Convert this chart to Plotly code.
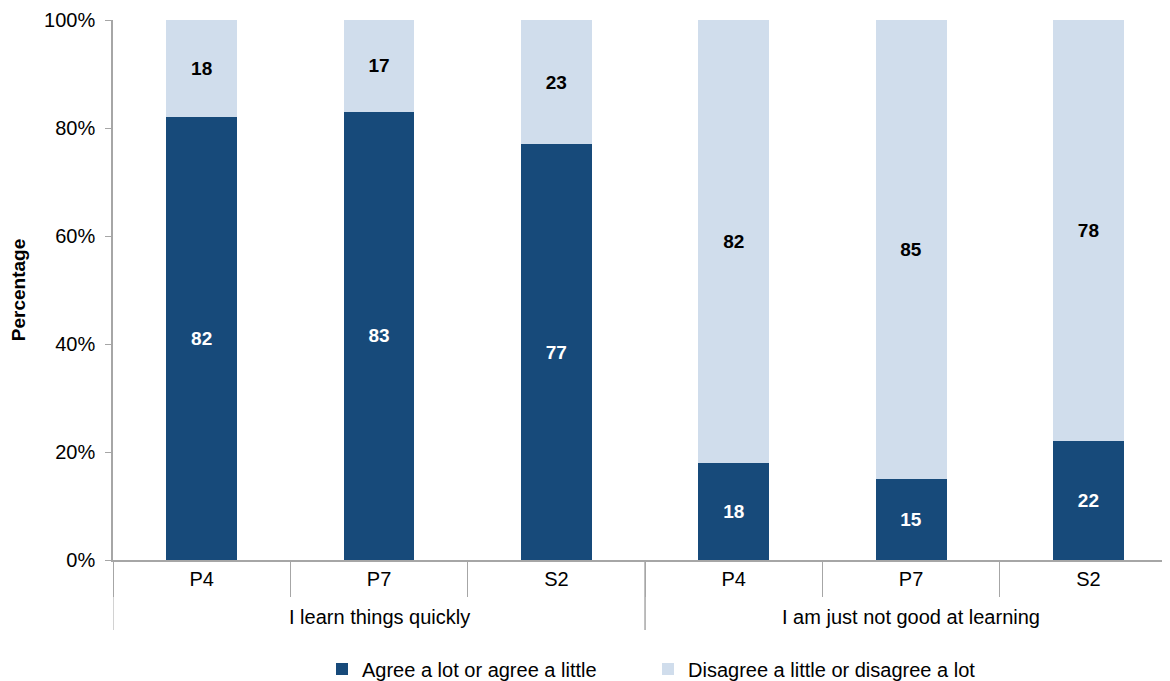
import plotly.graph_objects as go

statements = ["I learn things quickly"] * 3 + ["I am just not good at learning"] * 3
stages = ["P4", "P7", "S2", "P4", "P7", "S2"]
agree = [82, 83, 77, 18, 15, 22]
disagree = [18, 17, 23, 82, 85, 78]
y_ticks = [0, 20, 40, 60, 80, 100]
y_tick_labels = ["0%", "20%", "40%", "60%", "80%", "100%"]

dark = "#174A7A"
light = "#D0DDEC"
axis_col = "#A6A6A6"
font_family = "Liberation Sans, Arial, sans-serif"

keys = [f"{s}|{g}" for s, g in zip(statements, stages)]

fig = go.Figure()
fig.add_trace(go.Bar(
    x=keys, y=agree, name="Agree a lot or agree a little",
    marker=dict(color=dark, line=dict(width=0)),
    text=[str(v) for v in agree], textposition="inside", insidetextanchor="middle",
    textfont=dict(color="white", size=19, family=font_family, weight="bold"),
    textangle=0, legend="legend", showlegend=True,
))
fig.add_trace(go.Bar(
    x=keys, y=disagree, name="Disagree a little or disagree a lot",
    marker=dict(color=light, line=dict(width=0)),
    text=[str(v) for v in disagree], textposition="inside", insidetextanchor="middle",
    textfont=dict(color="black", size=19, family=font_family, weight="bold"),
    textangle=0, legend="legend2", showlegend=True,
))

# group labels and dividers, derived from the category data
groups = []
for i, s in enumerate(statements):
    if not groups or groups[-1][0] != s:
        groups.append([s, i, i])
    else:
        groups[-1][2] = i

plot_w = 1057.0
plot_h = 540.0
for name, i0, i1 in groups:
    fig.add_annotation(
        x=(i0 + i1) / 2, xref="x", y=-57 / plot_h, yref="paper",
        text=name, showarrow=False, yanchor="middle",
        font=dict(size=20, family=font_family, color="black"),
    )
    for b in (i0 - 0.5, i1 + 0.5):
        fig.add_shape(
            type="line", xref="x", yref="paper",
            x0=b, x1=b, y0=0, y1=-70 / plot_h,
            line=dict(color=axis_col, width=1),
        )

leg_common = dict(orientation="h", yanchor="middle", y=-109 / plot_h,
                  font=dict(size=20), itemwidth=30, xanchor="left",
                  bgcolor="rgba(0,0,0,0)", visible=True)

fig.update_layout(
    barmode="stack",
    bargap=0.6,
    showlegend=True,
    width=1162, height=673,
    margin=dict(l=105, r=0, t=12, b=121, autoexpand=False),
    paper_bgcolor="white", plot_bgcolor="white",
    font=dict(family=font_family, size=20, color="black"),
    uniformtext=dict(mode=False),
    legend=dict(x=(322 - 113) / plot_w, **leg_common),
    legend2=dict(x=(648 - 113) / plot_w, **leg_common),
    xaxis=dict(
        type="category", categoryorder="array", categoryarray=keys,
        tickvals=keys, ticktext=stages,
        range=[-0.5, 5.46],
        showline=True, linecolor=axis_col, linewidth=1.5,
        ticks="outside", tickson="boundaries", ticklen=35, tickcolor=axis_col,
        showgrid=False, tickfont=dict(size=20), automargin=False,
    ),
    yaxis=dict(
        range=[0, 100], tickvals=y_ticks, ticktext=y_tick_labels,
        showline=True, linecolor=axis_col, linewidth=1.5,
        ticks="outside", ticklen=6, tickcolor=axis_col, ticklabelstandoff=6,
        showgrid=False, zeroline=False, tickfont=dict(size=20),
        automargin=False,
        title=dict(text="<b>Percentage</b>", font=dict(size=19), standoff=20),
    ),
)

fig.write_html("out.html")
